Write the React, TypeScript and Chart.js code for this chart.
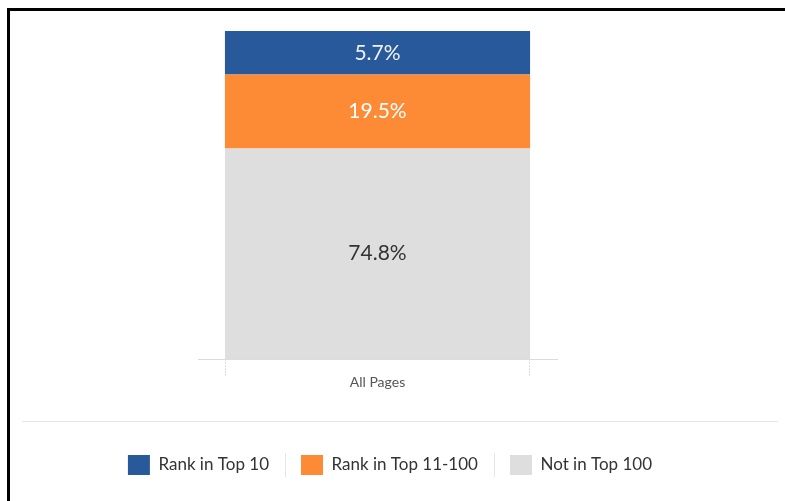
import React, { useEffect, useRef } from "react";
import { Chart, registerables } from "chart.js";

Chart.register(...registerables);

const categories = ["All Pages"];
const seriesNames = ["Not in Top 100", "Rank in Top 11-100", "Rank in Top 10"];
// segment heights as drawn in the picture (the bar is not drawn to scale)
const drawnHeights = [64.2, 22.5, 13.3];
// the percentages printed on the segments
const printedValues = ["74.8%", "19.5%", "5.7%"];
const seriesColors = ["#dedede", "#fd8b36", "#285a9b"];
const labelColors = ["#333333", "#ffffff", "#f2f2f2"];

const FONT = "Lato, 'Open Sans', sans-serif";

const decorPlugin = {
  id: "decor",
  afterDatasetsDraw(chart: any) {
    const ctx = chart.ctx;
    chart.data.datasets.forEach((ds: any, i: number) => {
      const meta = chart.getDatasetMeta(i);
      meta.data.forEach((el: any) => {
        const yc = (el.y + el.base) / 2;
        ctx.save();
        ctx.font = `21px ${FONT}`;
        ctx.fillStyle = labelColors[i];
        ctx.textAlign = "center";
        ctx.textBaseline = "middle";
        ctx.fillText(printedValues[i], el.x, yc);
        ctx.restore();
      });
    });
    const meta = chart.getDatasetMeta(0);
    const el: any = meta.data[0];
    if (el) {
      const b = chart.chartArea.bottom;
      ctx.save();
      ctx.strokeStyle = "#dcdcdc";
      ctx.lineWidth = 1;
      ctx.setLineDash([2, 1]);
      [el.x - el.width / 2, el.x + el.width / 2 - 1].forEach((x) => {
        ctx.beginPath();
        ctx.moveTo(Math.round(x) + 0.5, b);
        ctx.lineTo(Math.round(x) + 0.5, b + 17);
        ctx.stroke();
      });
      ctx.restore();
    }
  },
  afterDraw(chart: any) {
    const ctx = chart.ctx;
    const lg = chart.legend;
    if (!lg) return;
    ctx.save();
    ctx.strokeStyle = "#e6e6e6";
    ctx.lineWidth = 1;
    ctx.beginPath();
    ctx.moveTo(22, 421.5);
    ctx.lineTo(778, 421.5);
    ctx.stroke();
    const boxes = lg.legendHitBoxes || [];
    for (let i = 0; i < boxes.length - 1; i++) {
      const a = boxes[i];
      const n = boxes[i + 1];
      const x = Math.round((a.left + a.width + n.left) / 2) + 0.5;
      const yc = a.top + a.height / 2;
      ctx.beginPath();
      ctx.moveTo(x, yc - 12);
      ctx.lineTo(x, yc + 12);
      ctx.stroke();
    }
    ctx.restore();
  },
};

export default function App() {
  const ref = useRef<HTMLCanvasElement | null>(null);

  useEffect(() => {
    if (!ref.current) return;
    const chart = new Chart(ref.current, {
      type: "bar",
      data: {
        labels: categories,
        datasets: seriesNames.map((name, i) => ({
          label: name,
          data: [drawnHeights[i]],
          backgroundColor: seriesColors[i],
          borderWidth: 0,
          categoryPercentage: 1,
          barPercentage: 0.85,
        })),
      },
      options: {
        animation: false,
        responsive: false,
        devicePixelRatio: 1,
        layout: { padding: { left: 0, right: 5, top: 31, bottom: 16 } },
        plugins: {
          tooltip: { enabled: false },
          legend: {
            position: "bottom",
            reverse: true,
            labels: {
              boxWidth: 22,
              boxHeight: 20,
              padding: 32,
              color: "#333333",
              font: { family: FONT, size: 17 },
            },
          },
        },
        scales: {
          x: {
            stacked: true,
            grid: { display: false },
            border: { display: true, color: "#dcdcdc", dash: [2, 1] },
            ticks: {
              color: "#555555",
              font: { family: FONT, size: 14 },
              padding: 7,
            },
            afterFit: (s: any) => {
              s.height = 64;
            },
          },
          y: {
            stacked: true,
            min: 0,
            max: 100,
            display: true,
            grid: { display: false },
            border: { display: false },
            ticks: { display: false },
            afterFit: (s: any) => {
              s.width = 198;
            },
          },
          y2: {
            position: "right",
            display: true,
            grid: { display: false },
            border: { display: false },
            ticks: { display: false },
            afterFit: (s: any) => {
              s.width = 223;
            },
          },
        },
      },
      plugins: [decorPlugin],
    });
    return () => chart.destroy();
  }, []);

  return (
    <div
      style={{
        position: "absolute",
        left: 0,
        top: 0,
        width: 785,
        height: 501,
        background: "#ffffff",
        overflow: "hidden",
      }}
    >
      <canvas ref={ref} width={785} height={501} style={{ position: "absolute", left: 0, top: 0 }} />
      <div
        style={{
          position: "absolute",
          left: 7,
          top: 8,
          width: 800,
          height: 520,
          borderLeft: "3px solid #000",
          borderTop: "3px solid #000",
          pointerEvents: "none",
        }}
      />
    </div>
  );
}
